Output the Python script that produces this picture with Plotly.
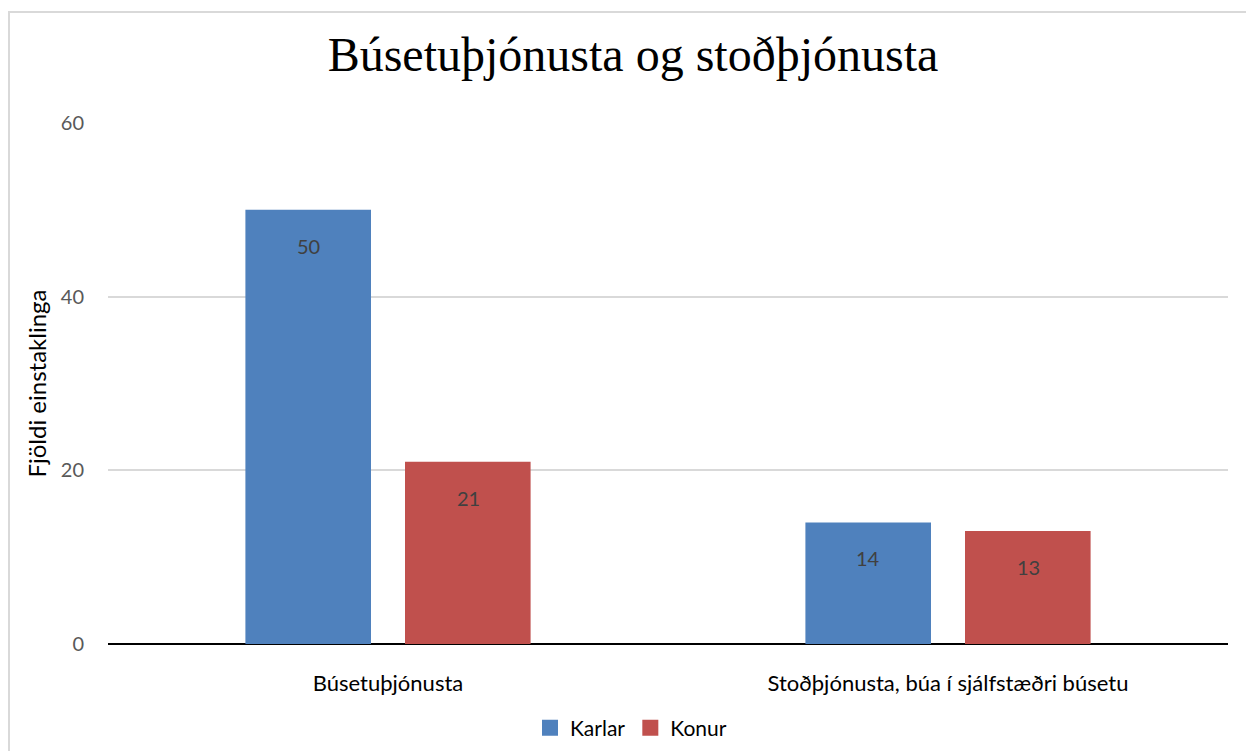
import plotly.graph_objects as go

categories = ["Búsetuþjónusta", "Stoðþjónusta, búa í sjálfstæðri búsetu"]
karlar = [50, 14]
konur = [21, 13]
series_names = ["Karlar", "Konur"]
colors = ["#4F81BD", "#C0504D"]
title_text = "Búsetuþjónusta og stoðþjónusta"
y_title = "Fjöldi einstaklinga"
y_ticks = [0, 20, 40, 60]

W, H = 1246, 751
ml, mr, mt, mb = 108, 18, 123, 107
font_main = "Lato, 'Open Sans', sans-serif"

fig = go.Figure()
for name, vals, col in zip(series_names, [karlar, konur], colors):
    fig.add_trace(go.Bar(name=name, x=categories, y=vals, showlegend=False,
                         marker=dict(color=col, line=dict(width=0))))
# legend entries with larger square swatches
for name, col in zip(series_names, colors):
    fig.add_trace(go.Scatter(name=name, x=[None], y=[None], mode="markers",
                             marker=dict(symbol="square", size=16, color=col), showlegend=True))

# data labels
for vals, shift in zip([karlar, konur], [-80, 80]):
    for c, v in zip(categories, vals):
        fig.add_annotation(x=c, y=v, xref="x", yref="y", text=str(v), showarrow=False,
                           xshift=shift, yshift=-36, font=dict(family=font_main, size=20, color="#404040"))

# outer border
pw = W - ml - mr
ph = H - mt - mb
fig.add_shape(type="rect", xref="paper", yref="paper",
              x0=(9 - ml) / pw, x1=(W + 10 - ml) / pw,
              y0=(H - mb - (H + 10)) / ph, y1=(H - mb - 12) / ph,
              line=dict(color="#D9D9D9", width=2), fillcolor="rgba(0,0,0,0)", layer="below")

fig.update_layout(
    width=W, height=H,
    margin=dict(l=ml, r=mr, t=mt, b=mb),
    paper_bgcolor="white", plot_bgcolor="white",
    title=dict(text=title_text, x=633 / W, xanchor="center", y=1 - 54 / H, yanchor="middle",
               font=dict(family="'Liberation Serif', 'Times New Roman', serif", size=48, color="#000000")),
    barmode="group", bargap=0.43, bargroupgap=0.213,
    showlegend=True,
    legend=dict(orientation="h", xref="container", yref="container", x=631 / W, xanchor="center",
                y=1 - 728 / H, yanchor="middle", itemwidth=30,
                font=dict(family=font_main, size=21, color="#000000")),
    xaxis=dict(showgrid=False, ticks="", ticklabelstandoff=24, showline=False,
               tickfont=dict(family=font_main, size=22, color="#000000")),
    yaxis=dict(range=[0, 60], tickvals=y_ticks, showgrid=True, gridcolor="#D9D9D9", gridwidth=1.5,
               zeroline=True, zerolinecolor="#000000", zerolinewidth=2, showline=False,
               ticks="", ticklabelstandoff=23,
               tickfont=dict(family=font_main, size=20, color="#595959"),
               title=dict(text=y_title, standoff=7, font=dict(family=font_main, size=24, color="#000000"))),
)

fig.write_html("out.html", config={"displayModeBar": False},
               post_script="document.body.style.margin='0';")
